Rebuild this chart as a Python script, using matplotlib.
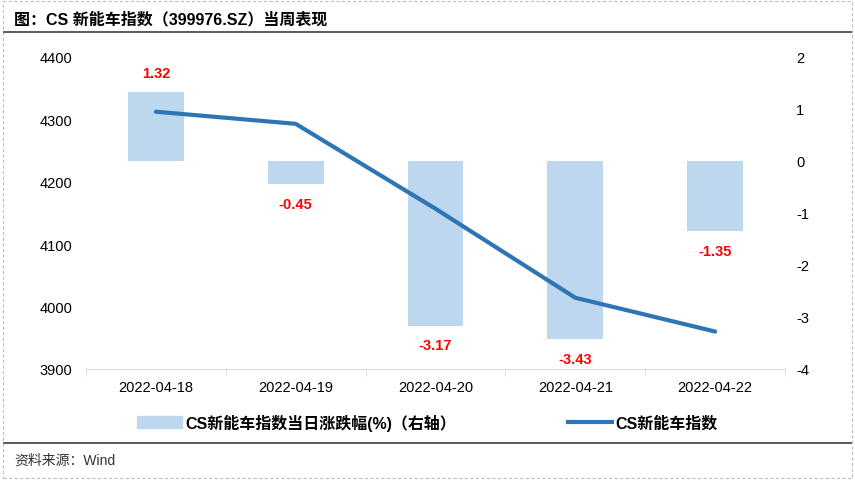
import numpy as np
import matplotlib.pyplot as plt
from matplotlib.lines import Line2D
from matplotlib.patches import Rectangle

plt.rcParams['font.family'] = ['Liberation Sans', 'Noto Sans CJK SC', 'DejaVu Sans']
plt.rcParams['axes.unicode_minus'] = False

dates = ['2022-04-18', '2022-04-19', '2022-04-20', '2022-04-21', '2022-04-22']
index_close = [4312.3, 4292.9, 4156.8, 4014.2, 3960.0]
pct_change = [1.32, -0.45, -3.17, -3.43, -1.35]

bar_color = '#BDD7EE'
line_color = '#2E75B6'

fig = plt.figure(figsize=(8.55, 4.81), dpi=100)
ax = fig.add_axes([86/855, 1-370/481, 699/855, 312/481])
ax2 = ax.twinx()

x = np.arange(len(dates))
ax2.bar(x, pct_change, width=0.4, color=bar_color, zorder=1)
ax.plot(x, index_close, color=line_color, lw=3, solid_capstyle='round', zorder=3)
ax.set_zorder(ax2.get_zorder() + 1)
ax.patch.set_visible(False)

ax.set_xlim(-0.5, len(dates) - 0.5)
ax.set_ylim(3900, 4400)
ax.set_yticks(np.arange(3900, 4401, 100))
ax2.set_ylim(-4, 2)
ax2.set_yticks(np.arange(-4, 3, 1))

# 涨跌幅数据标签
for v, xi in zip(pct_change, x):
    if v >= 0:
        ax2.annotate(f'{v:.2f}', (xi, v), xytext=(0, 9), textcoords='offset points',
                     ha='center', va='bottom', color='red', fontsize=10.5, fontweight='bold')
    else:
        ax2.annotate(f'{v:.2f}', (xi, v), xytext=(0, -9), textcoords='offset points',
                     ha='center', va='top', color='red', fontsize=10.5, fontweight='bold')

for a in (ax, ax2):
    for s in a.spines.values():
        s.set_visible(False)
    a.tick_params(axis='y', length=0, labelsize=10.5, pad=10)
ax2.tick_params(axis='y', pad=8)
ax.spines['bottom'].set_visible(True)
ax.spines['bottom'].set_color('#D9D9D9')
ax.set_xticks(x)
ax.set_xticklabels(dates)
ax.tick_params(axis='x', which='major', length=0, labelsize=10.5, pad=8)
ax.set_xticks(np.arange(-0.5, len(dates), 1), minor=True)
ax.tick_params(axis='x', which='minor', length=5, color='#D9D9D9', direction='out')
ax2.tick_params(axis='x', length=0)

handles = [Rectangle((0, 0), 1, 1, color=bar_color),
           Line2D([], [], color=line_color, lw=3)]
labels = ['CS新能车指数当日涨跌幅(%)（右轴）', 'CS新能车指数']
fig.legend(handles, labels, loc='center', bbox_to_anchor=(0.5, 1-423/481), ncol=2,
           frameon=False, handlelength=2.8, handletextpad=0.2, columnspacing=7,
           prop={'size': 11.5, 'weight': 'bold'})

fig.text(14/855, 1-20/481, '图：CS 新能车指数（399976.SZ）当周表现', fontsize=11.5,
         fontweight='bold', va='center', ha='left')
fig.text(14/855, 1-461/481, '资料来源：Wind', fontsize=10, va='center', ha='left',
         color='#333333')
fig.add_artist(Line2D([0.005, 0.995], [1-33/481, 1-33/481], color='#333F50', lw=1.2))
fig.add_artist(Line2D([0.005, 0.995], [1-444/481, 1-444/481], color='#333F50', lw=1.2))
fig.add_artist(Rectangle((0.003, 0.004), 0.994, 0.992, fill=False, ec='#BFBFBF',
                         lw=0.8, ls=(0, (3, 2)), transform=fig.transFigure))

fig.savefig('out.png', dpi=100)
